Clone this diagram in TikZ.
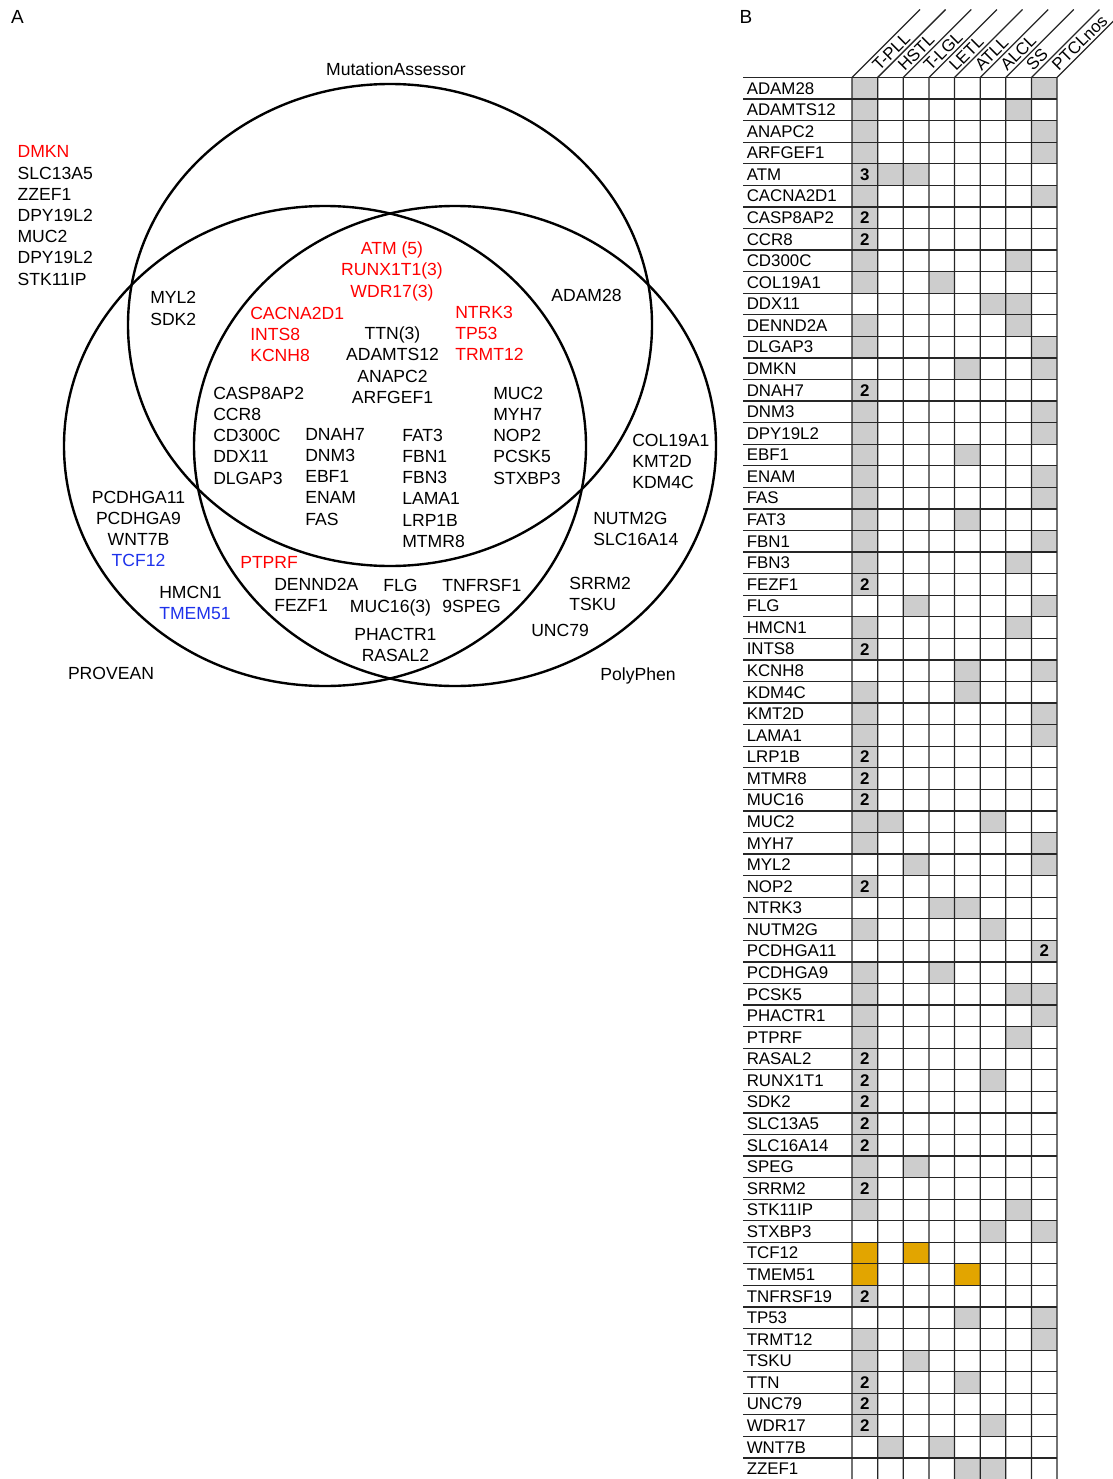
\documentclass[tikz,border=0pt]{standalone}
\usepackage{fontspec}
\setmainfont{Liberation Sans}
\usepackage{tikz}

\definecolor{hitred}{RGB}{255,0,0}
\definecolor{hitblue}{RGB}{30,50,235}
\definecolor{cellgray}{RGB}{205,205,205}
\definecolor{cellgold}{RGB}{226,165,0}

\newcommand{\rowh}{21.57}
\newcommand{\colw}{25.63}

\tikzset{
	venn/.style={line width=1.7pt},
	genes/.style={inner sep=0pt,font=\fontsize{12.5}{15.1}\selectfont},
	tabline/.style={line width=.9pt,black!85},
	gene/.style={inner sep=0pt,anchor=west,font=\fontsize{12}{14}\selectfont},
	hits/.style={inner sep=0pt,font=\fontsize{12}{14}\bfseries\selectfont},
}

\begin{document}
\begin{tikzpicture}[x=0.025cm,y=-0.025cm]
	\useasboundingbox (0,0) rectangle (1112,1479);

	% A: venn
	\node[genes,font=\fontsize{13.5}{16}\selectfont] (panA) at (17.5,16.5) {A};
	\draw[venn] (390,325) ellipse [x radius=262, y radius=241];
	\draw[venn] (325,446) ellipse [x radius=261, y radius=240];
	\draw[venn] (455,446) ellipse [x radius=261, y radius=240];
	\node[genes,anchor=base] (mutass) at (396,75.3) {MutationAssessor};
	\node[genes,anchor=base] (provean) at (111,679.3) {PROVEAN};
	\node[genes,anchor=base] (polyphen) at (638,680.3) {PolyPhen};

	\node[genes,anchor=north west,align=left] (none) at (17.3,145.4)
		{\textcolor{hitred}{DMKN}\\SLC13A5\\ZZEF1\\DPY19L2\\MUC2\\DPY19L2\\STK11IP};
	\node[genes,anchor=north west,align=left] (maonly) at (150,291.4) {MYL2\\SDK2};
	\node[genes,anchor=north west,align=left] (maonly2) at (250,306.7)
		{\textcolor{hitred}{CACNA2D1}\\\textcolor{hitred}{INTS8}\\\textcolor{hitred}{KCNH8}};
	\node[genes,anchor=north,align=center,text=hitred] (allred) at (392,241.7) {ATM (5)\\RUNX1T1(3)\\WDR17(3)};
	\node[genes,anchor=north,align=center] (allblack) at (392.5,326.7) {TTN(3)\\ADAMTS12\\ANAPC2\\ARFGEF1};
	\node[genes,anchor=north west,align=left,text=hitred] (allred2) at (455,305.7) {NTRK3\\TP53\\TRMT12};
	\node[genes,anchor=north] (mapp) at (586.5,288.7) {ADAM28};
	\node[genes,anchor=north west,align=left] (all1) at (213,386.7) {CASP8AP2\\CCR8\\CD300C\\DDX11\\DLGAP3};
	\node[genes,anchor=north west,align=left] (all2) at (305,427.7) {DNAH7\\DNM3\\EBF1\\ENAM\\FAS};
	\node[genes,anchor=north west,align=left] (all3) at (402,428.7) {FAT3\\FBN1\\FBN3\\LAMA1\\LRP1B\\MTMR8};
	\node[genes,anchor=north west,align=left] (all4) at (493,386.7) {MUC2\\MYH7\\NOP2\\PCSK5\\STXBP3};
	\node[genes,anchor=north west,align=left] (ppma) at (632,433.7) {COL19A1\\KMT2D\\KDM4C};
	\node[genes,anchor=north west,align=left] (pponly) at (593,511.7) {NUTM2G\\SLC16A14};
	\node[genes,anchor=north,align=center] (prov1) at (138.5,490.7)
		{PCDHGA11\\PCDHGA9\\WNT7B\\\textcolor{hitblue}{TCF12}};
	\node[genes,anchor=north west,align=left] (prov2) at (159,585.7) {HMCN1\\\textcolor{hitblue}{TMEM51}};
	\node[genes,anchor=north west,text=hitred] (provpp1) at (240,555.7) {PTPRF};
	\node[genes,anchor=north west,align=left] (provpp2) at (274,577.7) {DENND2A\\FEZF1};
	\node[genes,anchor=north] (provpp3) at (400.5,578.7) {FLG};
	\node[genes,anchor=north] (provpp4) at (390.5,599.7) {MUC16(3)};
	\node[genes,anchor=north west,align=left] (provpp5) at (442,578.7) {TNFRSF1\\9SPEG};
	\node[genes,anchor=north,align=center] (provpp6) at (395.5,627.7) {PHACTR1\\RASAL2};
	\node[genes,anchor=north west,align=left] (pponly2) at (569,576.7) {SRRM2\\TSKU};
	\node[genes,anchor=north west] (pponly3) at (531,623.7) {UNC79};

	% B: table
	\node[genes,font=\fontsize{13.5}{16}\selectfont] (panB) at (746,16.5) {B};
	\foreach \r/\c in {1/1,1/8,2/1,2/7,3/1,3/8,4/1,4/8,5/1,5/2,5/3,6/1,6/8,7/1,8/1,9/1,9/7,
		10/1,10/4,11/6,11/7,12/1,12/7,13/1,13/8,14/5,14/8,15/1,16/1,16/8,17/1,17/8,18/1,18/5,
		19/1,19/8,20/1,20/8,21/1,21/5,22/1,22/8,23/1,23/7,24/1,25/3,25/8,26/1,26/7,27/1,
		28/5,28/8,29/1,29/5,30/1,30/8,31/1,31/8,32/1,33/1,34/1,35/1,35/2,35/6,36/1,36/8,
		37/3,37/8,38/1,39/4,39/5,40/1,40/6,41/8,42/1,42/4,43/1,43/7,43/8,44/1,44/8,45/1,45/7,
		46/1,47/1,47/6,48/1,49/1,50/1,51/1,51/3,52/1,53/1,53/7,54/6,54/8,57/1,58/5,58/8,
		59/1,59/8,60/1,60/3,61/1,61/5,62/1,63/1,63/6,64/2,64/4,65/5,65/6}
		\fill[cellgray] ({852+(\c-1)*\colw},{77.5+(\r-1)*\rowh}) rectangle ++(\colw,\rowh);
	\foreach \r/\c in {55/1,55/3,56/1,56/5}
		\fill[cellgold] ({852+(\c-1)*\colw},{77.5+(\r-1)*\rowh}) rectangle ++(\colw,\rowh);

	\foreach \r in {0,...,65}
		\draw[tabline] (743,{77.5+\r*\rowh}) -- (1057,{77.5+\r*\rowh});
	\foreach \c in {0,...,8}
		\draw[tabline] ({852+\c*\colw},77.5) -- ++(0,1410) ({852+\c*\colw},77.5) -- ++(68,-68);

	\foreach \h [count=\c] in {T-PLL,HSTL,T-LGL,LETL,ATLL,ALCL,SS,PTCLnos}
		\node[gene,rotate=45,anchor=base west] (head\c) at ({852+\c*\colw+1.5},72) {\h};

	\foreach \g [count=\r] in {ADAM28,ADAMTS12,ANAPC2,ARFGEF1,ATM,CACNA2D1,CASP8AP2,CCR8,
		CD300C,COL19A1,DDX11,DENND2A,DLGAP3,DMKN,DNAH7,DNM3,DPY19L2,EBF1,ENAM,FAS,FAT3,
		FBN1,FBN3,FEZF1,FLG,HMCN1,INTS8,KCNH8,KDM4C,KMT2D,LAMA1,LRP1B,MTMR8,MUC16,MUC2,
		MYH7,MYL2,NOP2,NTRK3,NUTM2G,PCDHGA11,PCDHGA9,PCSK5,PHACTR1,PTPRF,RASAL2,RUNX1T1,
		SDK2,SLC13A5,SLC16A14,SPEG,SRRM2,STK11IP,STXBP3,TCF12,TMEM51,TNFRSF19,TP53,TRMT12,
		TSKU,TTN,UNC79,WDR17,WNT7B,ZZEF1}
		\node[gene] (row\r) at (746.5,{77.5+(\r-.5)*\rowh}) {\g};

	\foreach \r/\c/\n in {5/1/3,7/1/2,8/1/2,15/1/2,24/1/2,27/1/2,32/1/2,33/1/2,34/1/2,
		38/1/2,41/8/2,46/1/2,47/1/2,48/1/2,49/1/2,50/1/2,52/1/2,57/1/2,61/1/2,62/1/2,63/1/2}
		\node[hits] (hit\r-\c) at ({852+(\c-.5)*\colw},{77.5+(\r-.5)*\rowh}) {\n};
\end{tikzpicture}
\end{document}
